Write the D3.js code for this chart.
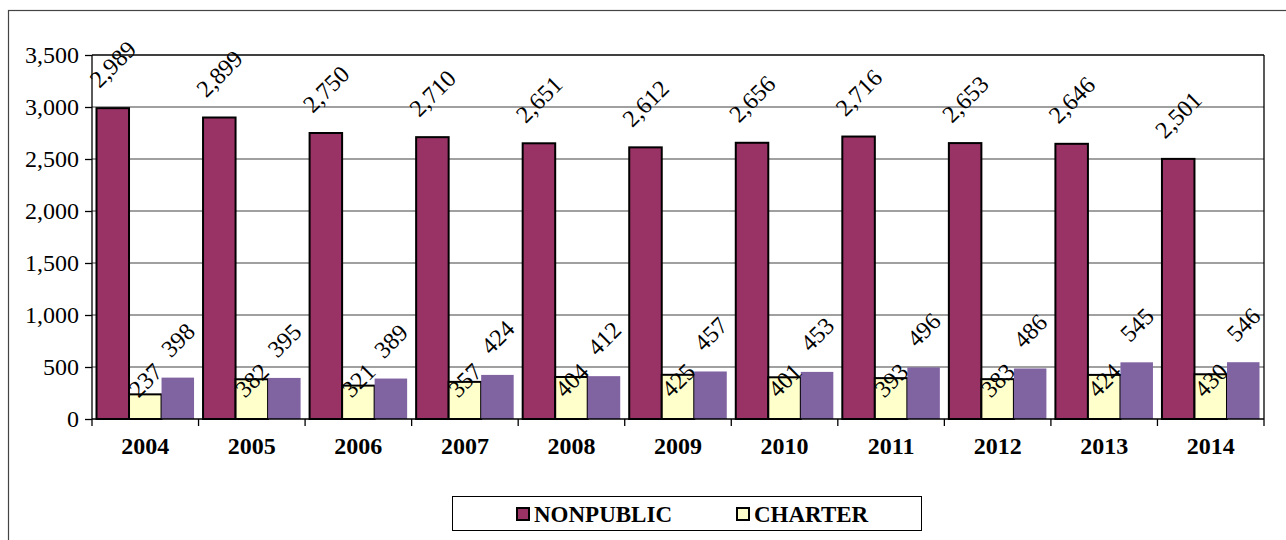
<!DOCTYPE html>
<meta charset="utf-8">
<style>
body { margin: 0; background: #fff; }
.grid line { stroke: #808080; stroke-width: 1.3px; }
</style>
<svg width="1286" height="540"></svg>
<script src="https://cdn.jsdelivr.net/npm/d3@7/dist/d3.min.js"></script>
<script>

// chart values
var years = ["2004", "2005", "2006", "2007", "2008", "2009", "2010", "2011", "2012", "2013", "2014"];
var nonpublic = [2989, 2899, 2750, 2710, 2651, 2612, 2656, 2716, 2653, 2646, 2501];
var charter = [237, 382, 321, 357, 404, 425, 401, 393, 383, 424, 430];
var third = [398, 395, 389, 424, 412, 457, 453, 496, 486, 545, 546];
var yTicks = [0, 500, 1000, 1500, 2000, 2500, 3000, 3500];

var series = [
  { name: "NONPUBLIC", values: nonpublic, fill: "#993366", stroke: "#000", legend: true },
  { name: "CHARTER", values: charter, fill: "#FFFFCC", stroke: "#000", legend: true },
  { name: "OTHER", values: third, fill: "#8064A2", stroke: "none", legend: false }
];

var FONT = "'Liberation Serif', 'Times New Roman', serif";
var svg = d3.select("svg");
var plotLeft = 92, plotRight = 1264, plotTop = 55, plotBottom = 419;

// outer frame (runs off the right and bottom edge)
svg.append("rect")
    .attr("x", 8.5).attr("y", 10.5)
    .attr("width", 1300).attr("height", 560)
    .attr("fill", "none").attr("stroke", "#444").attr("stroke-width", 1.2);

var y = d3.scaleLinear().domain([0, 3500]).range([plotBottom, plotTop]);
var x0 = d3.scaleBand().domain(years).range([plotLeft, plotRight]).padding(0);
var x1 = d3.scaleBand().domain(series.map(function(s) { return s.name; }))
    .range([4.5, x0.bandwidth() - 4.5]).padding(0);

// gridlines
svg.append("g").attr("class", "grid")
  .selectAll("line").data(yTicks.slice(1, -1)).enter().append("line")
    .attr("x1", plotLeft).attr("x2", plotRight)
    .attr("y1", function(d) { return y(d); }).attr("y2", function(d) { return y(d); });

// top and right border of plot
svg.append("line").attr("x1", plotLeft).attr("x2", plotRight).attr("y1", y(3500)).attr("y2", y(3500))
    .attr("stroke", "#000").attr("stroke-width", 1.3);
svg.append("line").attr("x1", plotRight).attr("x2", plotRight).attr("y1", plotTop).attr("y2", plotBottom)
    .attr("stroke", "#000").attr("stroke-width", 1.3);

// bars
series.forEach(function(s) {
  svg.append("g").selectAll("rect").data(s.values).enter().append("rect")
      .attr("x", function(d, i) { return x0(years[i]) + x1(s.name); })
      .attr("y", function(d) { return y(d); })
      .attr("width", x1.bandwidth())
      .attr("height", function(d) { return y(0) - y(d); })
      .attr("fill", s.fill)
      .attr("stroke", s.stroke)
      .attr("stroke-width", 2);
});

// y axis
var yAxis = svg.append("g")
    .attr("transform", "translate(" + plotLeft + ",0)")
    .call(d3.axisLeft(y).tickValues(yTicks).tickSize(7).tickPadding(6).tickFormat(d3.format(",")));
yAxis.attr("font-family", null).attr("font-size", null);
yAxis.selectAll("text").style("font-family", FONT).style("font-size", "24px").attr("fill", "#000");
yAxis.selectAll("line, path").attr("stroke", "#000").attr("stroke-width", 1.3);
yAxis.select(".domain").attr("d", "M0," + plotTop + "V" + plotBottom);

// x axis
var xAxis = svg.append("g")
    .attr("transform", "translate(0," + plotBottom + ")")
    .call(d3.axisBottom(x0).tickSize(0).tickPadding(18));
xAxis.attr("font-family", null).attr("font-size", null);
xAxis.selectAll("text").style("font-family", FONT).style("font-size", "24px")
    .style("font-weight", "bold").attr("fill", "#000");
xAxis.select(".domain").attr("stroke", "#000").attr("stroke-width", 1.3).attr("d", "M" + plotLeft + ",0H" + plotRight);
xAxis.selectAll(".boundary").data(years.concat(["end"])).enter().append("line")
    .attr("x1", function(d, i) { return plotLeft + i * x0.bandwidth(); })
    .attr("x2", function(d, i) { return plotLeft + i * x0.bandwidth(); })
    .attr("y1", 0).attr("y2", 7)
    .attr("stroke", "#000").attr("stroke-width", 1.3);

// data labels, rotated
var fmt = d3.format(",");
series.forEach(function(s) {
  svg.append("g").selectAll("text").data(s.values).enter().append("text")
      .style("font-family", FONT)
      .style("font-size", "24px")
      .attr("fill", "#000")
      .attr("text-anchor", "middle")
      .attr("dy", "0.35em")
      .text(function(d) { return fmt(d); })
      .attr("transform", function(d, i) {
        var cx = x0(years[i]) + x1(s.name) + x1.bandwidth() / 2;
        var cy;
        if (s.name === "CHARTER") {
          cy = y(375);
        } else {
          var len = this.getComputedTextLength();
          cy = y(d) - 25 - len * 0.354;
        }
        return "translate(" + cx + "," + cy + ") rotate(-45)";
      });
});

// legend
var lg = svg.append("g");
lg.append("rect").attr("x", 452.5).attr("y", 496.5).attr("width", 469).attr("height", 34)
    .attr("fill", "#fff").attr("stroke", "#000").attr("stroke-width", 1);
var legendX = [517, 737];
series.filter(function(s) { return s.legend; }).forEach(function(s, i) {
  lg.append("rect").attr("x", legendX[i]).attr("y", 508).attr("width", 12).attr("height", 12)
      .attr("fill", s.fill).attr("stroke", "#000").attr("stroke-width", 2);
  lg.append("text")
      .attr("x", legendX[i] + 17).attr("y", 522)
      .style("font-family", FONT)
      .style("font-size", "23px").style("font-weight", "bold")
      .text(s.name);
});

</script>
